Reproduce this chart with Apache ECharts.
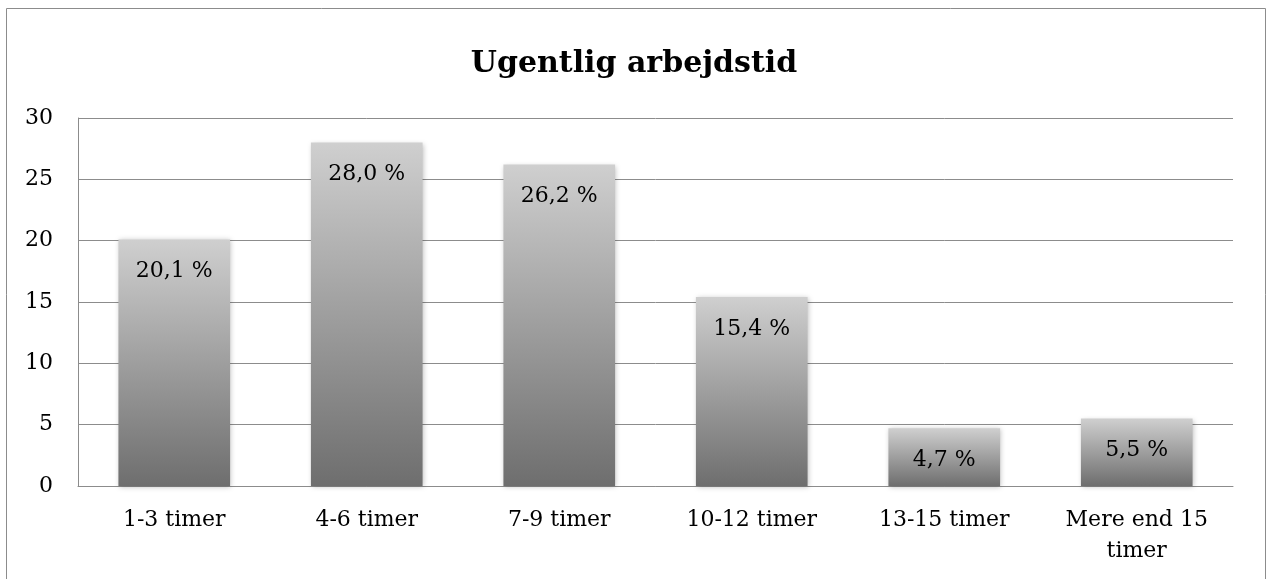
<!DOCTYPE html>
<html><head><meta charset="utf-8">
<script src="https://cdn.jsdelivr.net/npm/echarts@6/dist/echarts.min.js"></script>
<style>html,body{margin:0;padding:0;background:#fff}#c{width:1268px;height:579px}</style>
</head><body><div id="c"></div>
<script>
const categories = ['1-3 timer','4-6 timer','7-9 timer','10-12 timer','13-15 timer','Mere end 15\ntimer'];
const values = [20.1, 28.0, 26.2, 15.4, 4.7, 5.5];
const yTicks = [0, 5, 10, 15, 20, 25, 30];
const titleText = 'Ugentlig arbejdstid';
const FONT = '"DejaVu Serif", "Liberation Serif", serif';
const chart = echarts.init(document.getElementById('c'));
chart.setOption({
  animation: false,
  graphic: [{type:'rect', shape:{x:6.5,y:8.5,width:1259,height:600}, style:{fill:'none', stroke:'#8c8c8c', lineWidth:1}, silent:true}],
  title: {text: titleText, left: 'center', top: 44, textStyle:{fontFamily:FONT, fontWeight:'bold', fontSize:30, color:'#000'}},
  grid: {left: 78, right: 35, top: 118, bottom: 93},
  xAxis: {type:'category', data: categories,
    axisLine:{lineStyle:{color:'#8c8c8c', width:1}}, axisTick:{show:false},
    axisLabel:{fontFamily:FONT, fontSize:22, color:'#000', margin:19, lineHeight:31, interval:0}},
  yAxis: {type:'value', min:0, max:30, interval:5,
    axisLine:{show:true, lineStyle:{color:'#8c8c8c'}}, axisTick:{show:false},
    splitLine:{lineStyle:{color:'#8c8c8c', width:1}},
    axisLabel:{fontFamily:FONT, fontSize:22, color:'#000', margin:25, formatter:v=>yTicks.includes(v)?String(v):''}},
  series: [{type:'bar', data: values, barWidth:'58%',
    itemStyle:{color:new echarts.graphic.LinearGradient(0,0,0,1,[{offset:0,color:'#cfcfcf'},{offset:1,color:'#6e6e6e'}]),
      shadowBlur:5, shadowColor:'rgba(0,0,0,0.25)', shadowOffsetX:1, shadowOffsetY:1},
    label:{show:true, position:'insideTop', distance:21, fontFamily:FONT, fontSize:22, color:'#000',
      formatter:p=>p.value.toFixed(1).replace('.',',')+' %'}}]
});
</script></body></html>
